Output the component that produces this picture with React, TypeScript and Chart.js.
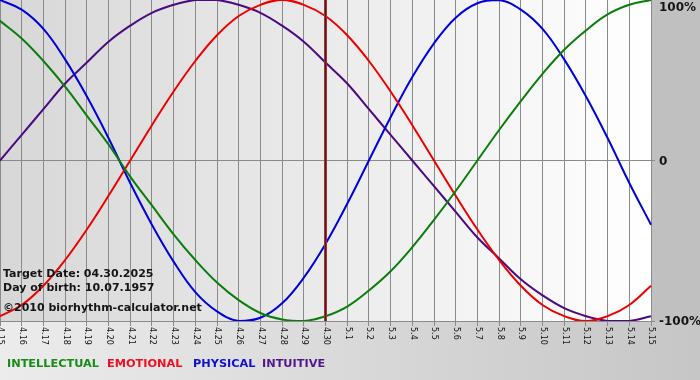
import React, { useEffect, useRef } from "react";
import { Chart, registerables } from "chart.js";

Chart.register(...registerables);

const dayLabels = [
  "4.15", "4.16", "4.17", "4.18", "4.19", "4.20", "4.21", "4.22", "4.23", "4.24",
  "4.25", "4.26", "4.27", "4.28", "4.29", "4.30", "5.1", "5.2", "5.3", "5.4",
  "5.5", "5.6", "5.7", "5.8", "5.9", "5.10", "5.11", "5.12", "5.13", "5.14", "5.15",
];

const intellectual = [0.87, 0.76, 0.62, 0.46, 0.28, 0.1, -0.1, -0.28, -0.46, -0.62, -0.76, -0.87, -0.95, -0.99, -1.0, -0.97, -0.91, -0.81, -0.69, -0.54, -0.37, -0.19, 0.0, 0.19, 0.37, 0.54, 0.69, 0.81, 0.91, 0.97, 1.0];
const emotional = [-0.97, -0.9, -0.78, -0.62, -0.43, -0.22, 0.0, 0.22, 0.43, 0.62, 0.78, 0.9, 0.97, 1.0, 0.97, 0.9, 0.78, 0.62, 0.43, 0.22, 0.0, -0.22, -0.43, -0.62, -0.78, -0.9, -0.97, -1.0, -0.97, -0.9, -0.78];
const physical = [1.0, 0.94, 0.82, 0.63, 0.4, 0.14, -0.14, -0.4, -0.63, -0.82, -0.94, -1.0, -0.98, -0.89, -0.73, -0.52, -0.27, 0.0, 0.27, 0.52, 0.73, 0.89, 0.98, 1.0, 0.94, 0.82, 0.63, 0.4, 0.14, -0.14, -0.4];
const intuitive = [0.0, 0.16, 0.32, 0.48, 0.61, 0.74, 0.84, 0.92, 0.97, 1.0, 1.0, 0.97, 0.92, 0.84, 0.74, 0.61, 0.48, 0.32, 0.16, 0.0, -0.16, -0.32, -0.48, -0.61, -0.74, -0.84, -0.92, -0.97, -1.0, -1.0, -0.97];

const seriesNames = ["INTELLECTUAL", "EMOTIONAL", "PHYSICAL", "INTUITIVE"];
const yTickValues = [1, 0, -1];
const yTickLabels = ["100%", "0", "-100%"];
const targetLabel = "4.30";
const infoLines = ["Target Date: 04.30.2025", "Day of birth: 10.07.1957", "\u00a92010 biorhythm-calculator.net"];

const lineColors = ["#0a7d0a", "#ee0000", "#0000dd", "#4b0a80"];
const legendColors = ["#178a17", "#ee1020", "#1010d0", "#53168a"];
const legendX = [7, 107, 193, 262];

const FONT = "'DejaVu Sans', Verdana, sans-serif";

const decorPlugin = {
  id: "decor",
  beforeDraw(chart: any) {
    const { ctx, chartArea, width, height } = chart;
    ctx.save();
    const gb = ctx.createLinearGradient(0, 0, width, 0);
    gb.addColorStop(0, "#ececec");
    gb.addColorStop(1, "#c6c6c6");
    ctx.fillStyle = gb;
    ctx.fillRect(0, 0, width, height);
    ctx.fillStyle = "#c0c0c0";
    ctx.fillRect(chartArea.right, 0, width - chartArea.right, chartArea.bottom);
    const g = ctx.createLinearGradient(chartArea.left, 0, chartArea.right, 0);
    g.addColorStop(0, "#d7d7d7");
    g.addColorStop(1, "#ffffff");
    ctx.fillStyle = g;
    ctx.fillRect(chartArea.left, chartArea.top, chartArea.right - chartArea.left, chartArea.bottom - chartArea.top);
    ctx.restore();
  },
  afterDatasetsDraw(chart: any) {
    const { ctx, chartArea, scales } = chart;
    const x = scales.x.getPixelForValue(dayLabels.indexOf(targetLabel));
    ctx.save();
    ctx.strokeStyle = "#a04848";
    ctx.lineWidth = 3;
    ctx.beginPath();
    ctx.moveTo(x, chartArea.top);
    ctx.lineTo(x, chartArea.bottom);
    ctx.stroke();
    ctx.strokeStyle = "#6a1010";
    ctx.lineWidth = 1.5;
    ctx.beginPath();
    ctx.moveTo(x, chartArea.top);
    ctx.lineTo(x, chartArea.bottom);
    ctx.stroke();

    ctx.fillStyle = "#141414";
    ctx.font = `bold 11px ${FONT}`;
    ctx.textAlign = "left";
    ctx.textBaseline = "alphabetic";
    const baselines = [277, 291, 311];
    infoLines.forEach((t, i) => ctx.fillText(t, 3, baselines[i]));
    ctx.restore();
  },
  afterDraw(chart: any) {
    const { ctx, chartArea, scales } = chart;
    ctx.save();
    ctx.fillStyle = "#111111";
    ctx.font = `8px ${FONT}`;
    ctx.textAlign = "left";
    ctx.textBaseline = "middle";
    dayLabels.forEach((lab, i) => {
      const x = scales.x.getPixelForValue(i);
      ctx.save();
      ctx.translate(x + 0.5, chartArea.bottom + 6);
      ctx.rotate(Math.PI / 2);
      ctx.fillText(lab, 0, 0);
      ctx.restore();
    });
    ctx.fillStyle = "#141414";
    ctx.font = `bold 12px ${FONT}`;
    ctx.textBaseline = "middle";
    yTickValues.forEach((v, i) => {
      let y = scales.y.getPixelForValue(v);
      y = Math.max(y, chartArea.top + 7);
      ctx.fillText(yTickLabels[i], chartArea.right + 8, y + 1);
    });
    ctx.font = `bold 11.3px ${FONT}`;
    ctx.textBaseline = "alphabetic";
    seriesNames.forEach((n, i) => {
      ctx.fillStyle = legendColors[i];
      ctx.fillText(n, legendX[i], 367);
    });
    ctx.restore();
  },
};

export default function App() {
  const ref = useRef<HTMLCanvasElement | null>(null);
  useEffect(() => {
    if (!ref.current) return;
    const seriesData = [intellectual, emotional, physical, intuitive];
    const chart = new Chart(ref.current, {
      type: "line",
      data: {
        labels: dayLabels,
        datasets: seriesNames.map((n, i) => ({
          label: n,
          data: seriesData[i],
          borderColor: lineColors[i],
          borderWidth: 2,
          pointRadius: 0,
          tension: 0.4,
          fill: false,
        })),
      },
      options: {
        animation: false,
        responsive: false,
        devicePixelRatio: 1,
        layout: { padding: 0 },
        plugins: { legend: { display: false }, tooltip: { enabled: false } },
        events: [],
        scales: {
          x: {
            type: "category",
            offset: false,
            grid: { color: "#8a8a8a", lineWidth: 1, drawTicks: true, tickLength: 5 },
            border: { display: true, color: "#8a8a8a" },
            ticks: { display: false, autoSkip: false },
            afterFit: (s: any) => { s.height = 59; },
          },
          y: {
            position: "right",
            min: -1,
            max: 1,
            grid: {
              color: (c: any) => (c.tick && c.tick.value === 1 ? "rgba(0,0,0,0)" : "#8a8a8a"),
              lineWidth: 1,
              drawTicks: true,
              tickLength: 4,
            },
            border: { display: true, color: "#8a8a8a" },
            ticks: { display: false, stepSize: 1 },
            afterFit: (s: any) => { s.width = 49; },
          },
        },
      },
      plugins: [decorPlugin],
    });
    return () => chart.destroy();
  }, []);
  return (
    <div style={{ position: "fixed", left: 0, top: 0, width: 700, height: 380 }}>
      <canvas ref={ref} width={700} height={380} style={{ display: "block" }} />
    </div>
  );
}
